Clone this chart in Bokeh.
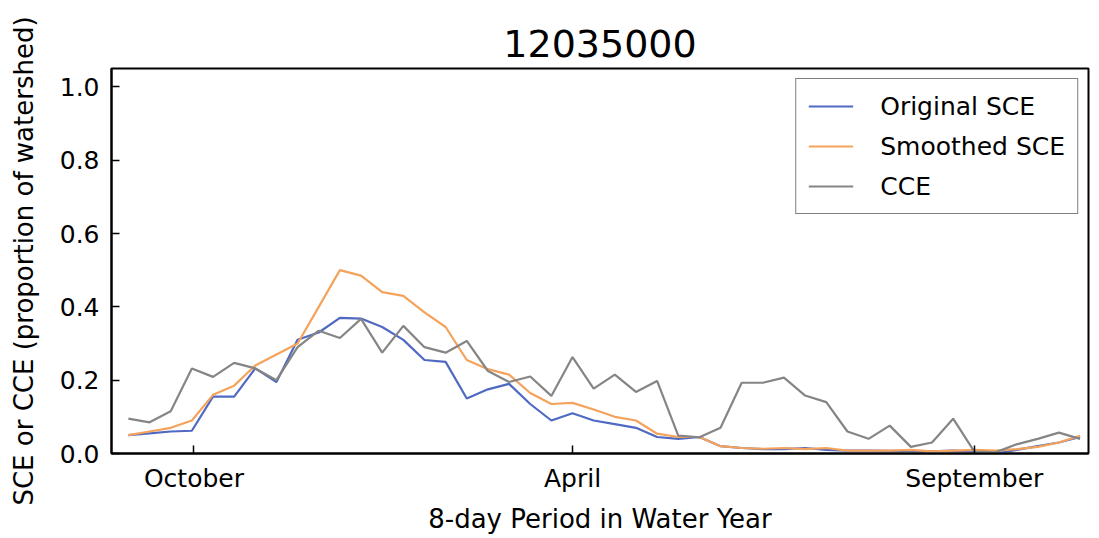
from bokeh.plotting import figure
from bokeh.models import FixedTicker, Range1d, Legend, LegendItem
from bokeh.embed import file_html
from bokeh.resources import INLINE

title_text = "12035000"
x_label = "8-day Period in Water Year"
y_label = "SCE or CCE (proportion of watershed)"

period = list(range(46))

original_sce = [0.05, 0.055, 0.06, 0.062, 0.155, 0.155, 0.232, 0.195, 0.31, 0.33,
                0.37, 0.368, 0.345, 0.31, 0.255, 0.25, 0.15, 0.175, 0.19, 0.135,
                0.09, 0.11, 0.09, 0.08, 0.07, 0.045, 0.04, 0.045, 0.02, 0.015,
                0.012, 0.012, 0.015, 0.01, 0.008, 0.008, 0.007, 0.007, 0.006, 0.008,
                0.005, 0.0, 0.01, 0.02, 0.03, 0.045]

smoothed_sce = [0.05, 0.06, 0.07, 0.09, 0.16, 0.185, 0.24, 0.27, 0.30, 0.40,
                0.50, 0.485, 0.44, 0.43, 0.385, 0.345, 0.255, 0.23, 0.215, 0.165,
                0.135, 0.138, 0.12, 0.10, 0.09, 0.054, 0.045, 0.045, 0.02, 0.015,
                0.013, 0.015, 0.012, 0.015, 0.008, 0.008, 0.008, 0.01, 0.006, 0.008,
                0.01, 0.008, 0.012, 0.018, 0.03, 0.048]

cce = [0.095, 0.085, 0.115, 0.232, 0.209, 0.247, 0.232, 0.2, 0.29, 0.335,
       0.315, 0.367, 0.275, 0.348, 0.29, 0.275, 0.307, 0.225, 0.195, 0.21,
       0.157, 0.263, 0.177, 0.215, 0.168, 0.198, 0.049, 0.044, 0.07, 0.193,
       0.193, 0.207, 0.158, 0.14, 0.06, 0.04, 0.076, 0.018, 0.03, 0.095,
       0.005, 0.003, 0.025, 0.04, 0.057, 0.04]

x_tick_pos = [3.1, 21, 40]
x_tick_labels = ["October", "April", "September"]
y_ticks = [0.0, 0.2, 0.4, 0.6, 0.8, 1.0]

series_names = ["Original SCE", "Smoothed SCE", "CCE"]
series_colors = ["#5069c2", "#f4a35c", "#858585"]

FONT = "DejaVu Sans"

p = figure(frame_width=977, frame_height=385, output_backend="svg", toolbar_location=None,
           x_range=Range1d(-0.8, 45.4), y_range=Range1d(0, 1.05),
           min_border_left=111, min_border_right=3, min_border_top=68,
           min_border_bottom=10, title=title_text)

p.title.text_font = FONT
p.title.text_font_size = "38px"
p.title.text_font_style = "normal"
p.title.text_color = "black"
p.title.align = "center"
p.title.standoff = 24
p.title.offset = 6

p.xgrid.visible = False
p.ygrid.visible = False
p.outline_line_color = "black"
p.outline_line_width = 2
p.background_fill_color = "white"
p.border_fill_color = "white"

renderers = []
for vals, col in zip([original_sce, smoothed_sce, cce], series_colors):
    r = p.line(period, vals, line_color=col, line_width=2.2)
    renderers.append(r)

xa = p.xaxis[0]
xa.ticker = FixedTicker(ticks=x_tick_pos)
xa.major_label_overrides = {k: v for k, v in zip(x_tick_pos, x_tick_labels)}
ya = p.yaxis[0]
ya.ticker = FixedTicker(ticks=y_ticks)
ya.major_label_overrides = {t: f"{t:.1f}" for t in y_ticks}

for ax in (xa, ya):
    ax.major_tick_in = 8
    ax.major_tick_out = 0
    ax.minor_tick_line_color = None
    ax.axis_line_color = "black"
    ax.axis_line_width = 2
    ax.major_tick_line_width = 1.5
    ax.major_label_text_font = FONT
    ax.major_label_text_font_size = "25px"
    ax.major_label_text_color = "black"
    ax.axis_label_text_font = FONT
    ax.axis_label_text_font_size = "26px"
    ax.axis_label_text_font_style = "normal"
    ax.axis_label_text_color = "black"

xa.axis_label = x_label
ya.axis_label = y_label
xa.major_label_standoff = 10
ya.major_label_standoff = 12
xa.axis_label_standoff = 8
ya.axis_label_standoff = 18

legend = Legend(items=[LegendItem(label=n, renderers=[r]) for n, r in zip(series_names, renderers)],
                location="top_right")
legend.label_text_font = FONT
legend.label_text_font_size = "25px"
legend.label_text_color = "black"
legend.border_line_color = "black"
legend.border_line_width = 1.5
legend.background_fill_alpha = 1.0
legend.margin = 10
legend.padding = 12
legend.spacing = 10
legend.glyph_width = 45
legend.glyph_height = 30
legend.label_height = 30
legend.label_standoff = 27
p.add_layout(legend)

open("out.html", "w").write(file_html(p, INLINE))
